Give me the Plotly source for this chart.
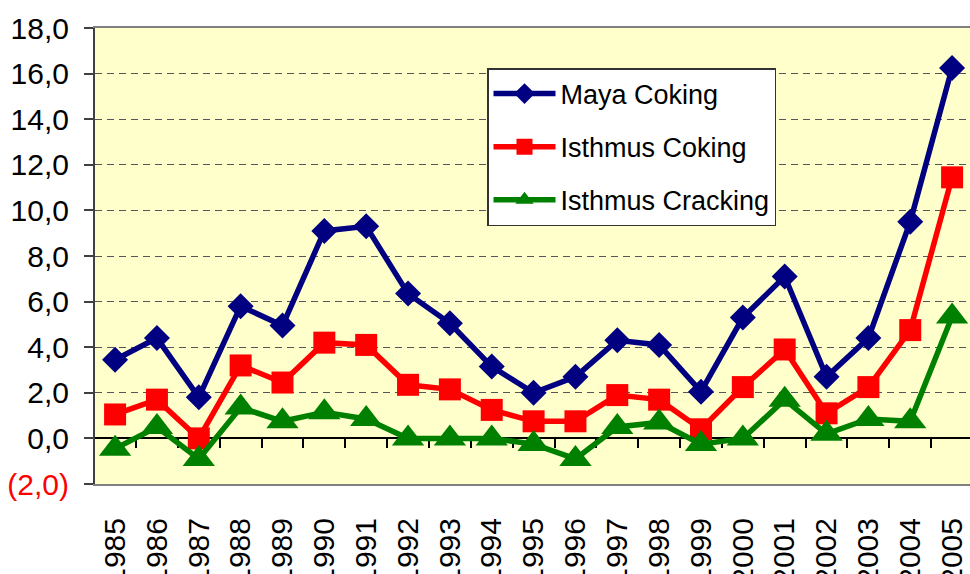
import plotly.graph_objects as go

years = [str(y) for y in range(1985, 2006)]
maya_coking = [3.45, 4.4, 1.8, 5.8, 4.95, 9.1, 9.3, 6.35, 5.05, 3.15, 2.0,
               2.7, 4.3, 4.1, 2.05, 5.3, 7.1, 2.7, 4.4, 9.5, 16.25]
isthmus_coking = [1.05, 1.7, 0.0, 3.2, 2.45, 4.2, 4.1, 2.35, 2.15, 1.25, 0.75,
                  0.75, 1.9, 1.7, 0.4, 2.25, 3.9, 1.1, 2.25, 4.75, 11.45]
isthmus_cracking = [-0.45, 0.5, -0.9, 1.35, 0.75, 1.15, 0.85, 0.0, 0.0, 0.0, -0.25,
                    -0.9, 0.5, 0.7, -0.25, 0.0, 1.7, 0.2, 0.85, 0.75, 5.35]
y_tickvals = [-2, 0, 2, 4, 6, 8, 10, 12, 14, 16, 18]
y_ticktext = ["<span style='color:#FF0000'>(2,0)</span>", "0,0", "2,0", "4,0", "6,0",
              "8,0", "10,0", "12,0", "14,0", "16,0", "18,0"]

FONT = "Liberation Sans, Arial, sans-serif"

fig = go.Figure()
series = [
    ("Maya Coking", maya_coking, "#000080", "diamond", 20),
    ("Isthmus Coking", isthmus_coking, "#FF0000", "square", 22),
    ("Isthmus Cracking", isthmus_cracking, "#008000", "triangle-up", 28),
]
for name, vals, col, sym, sz in series:
    fig.add_trace(go.Scatter(
        x=years, y=vals, name=name, mode="lines+markers",
        line=dict(color=col, width=5.5),
        marker=dict(symbol=sym, size=sz, color=col, line=dict(width=0)),
        legendgroup=name,
    ))

W, H = 970, 574
L, T, PH = 95, 28, 456
PW = W - L

fig.update_layout(
    width=W, height=H,
    margin=dict(l=L, r=0, t=T, b=H - T - PH, autoexpand=False),
    paper_bgcolor="white",
    plot_bgcolor="#FFFFCC",
    font=dict(family=FONT, size=30, color="black"),
    showlegend=True,
    legend=dict(
        x=(487 - L) / PW, y=1 - (68 - T) / PH, xanchor="left", yanchor="top",
        bgcolor="white", bordercolor="#333333", borderwidth=1.5,
        font=dict(family=FONT, size=27), tracegroupgap=15, itemwidth=62,
    ),
    xaxis=dict(
        type="category", range=[-0.48, -0.48 + PW / 41.85], automargin=False,
        showline=True, linecolor="#808080", linewidth=2, mirror=True,
        showgrid=False, ticks="", tickangle=-90, ticklabelstandoff=20,
        tickfont=dict(family=FONT, size=30),
    ),
    xaxis2=dict(
        overlaying="x", matches="x", anchor="free", position=0.1,
        type="category", showticklabels=False, showgrid=False,
        showline=True, linecolor="black", linewidth=1.5,
        ticks="outside", tickson="boundaries", ticklen=9, tickcolor="black", tickwidth=1.5,
        layer="below traces",
    ),
    yaxis=dict(
        range=[-2, 18], tickvals=y_tickvals, ticktext=y_ticktext, automargin=False,
        showgrid=True, gridcolor="#555555", griddash="7px,5px", gridwidth=1.2,
        zeroline=False, showline=True, linecolor="#404040", linewidth=2,
        ticks="outside", ticklen=9, tickcolor="#404040", tickwidth=1.5,
        ticklabelstandoff=9, tickfont=dict(family=FONT, size=30),
    ),
)
fig.add_trace(go.Scatter(x=years, y=[None] * len(years), xaxis="x2", showlegend=False,
                         hoverinfo="skip"))

fig.write_html("out.html", config={"displayModeBar": False},
               post_script="document.body.style.margin='0px';")
